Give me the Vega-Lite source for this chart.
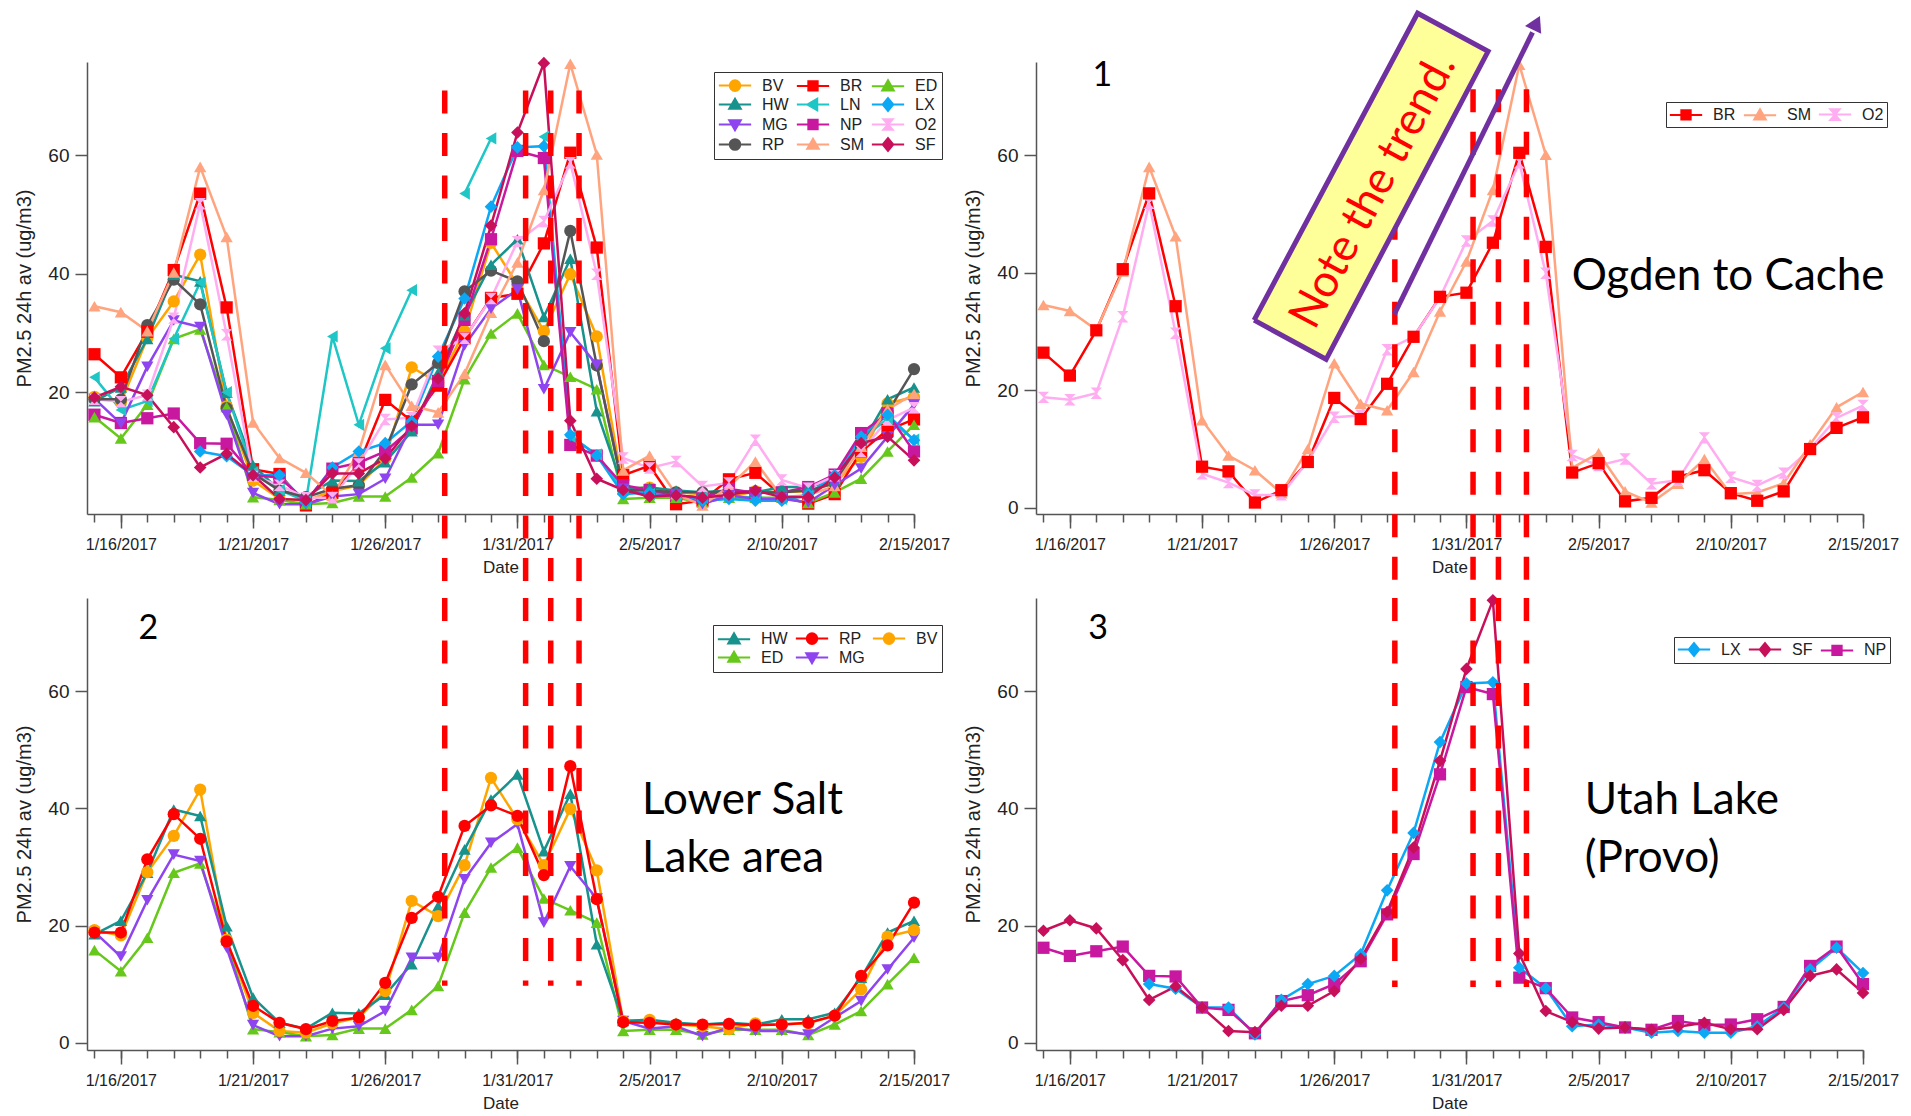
{
  "$schema": "https://vega.github.io/schema/vega-lite/v6.json",
  "background": "white",
  "padding": {"left": 14, "top": 3, "right": 4, "bottom": 4},
  "bounds": "flush",
  "columns": 2,
  "spacing": {"row": 84, "column": 122},
  "config": {
    "view": {"stroke": null},
    "axis": {
      "grid": false, "domainColor": "#555555", "domainWidth": 1.5, "tickColor": "#555555", "tickWidth": 1.5,
      "labelColor": "#222222", "titleColor": "#222222", "labelFont": "Liberation Sans, Arial, sans-serif",
      "titleFont": "Liberation Sans, Arial, sans-serif", "titleFontWeight": "normal"
    },
    "axisX": {"labelFontSize": 16, "titleFontSize": 17, "titlePadding": 7, "labelPadding": 8},
    "axisY": {"labelFontSize": 19, "titleFontSize": 20, "titlePadding": 13, "labelPadding": 6, "tickSize": 12},
    "legend": {
      "title": null, "orient": "none", "direction": "horizontal", "symbolSize": 289, "symbolOffset": 7.5, "labelOffset": 17.5, "columnPadding": 3,
      "rowPadding": -5, "padding": 4, "labelFont": "Liberation Sans, Arial, sans-serif", "symbolOpacity": 1,
      "labelFontSize": 16, "labelColor": "#222222", "strokeColor": "#333333", "fillColor": "#ffffff", "symbolStrokeWidth": 2, "columns": 3
    }
  },
  "resolve": {"scale": {"color": "independent", "shape": "independent"}},
  "datasets": {
    "pm": [
      {"station":"BV","date":"2017-01-15","pm":19.2},{"station":"BV","date":"2017-01-16","pm":18.3},{"station":"BV","date":"2017-01-17","pm":29.1},{"station":"BV","date":"2017-01-18","pm":35.3},{"station":"BV","date":"2017-01-19","pm":43.2},{"station":"BV","date":"2017-01-20","pm":17.6},{"station":"BV","date":"2017-01-21","pm":5.1},{"station":"BV","date":"2017-01-22","pm":2.0},{"station":"BV","date":"2017-01-23","pm":1.7},{"station":"BV","date":"2017-01-24","pm":3.3},{"station":"BV","date":"2017-01-25","pm":4.3},{"station":"BV","date":"2017-01-26","pm":8.8},{"station":"BV","date":"2017-01-27","pm":24.2},{"station":"BV","date":"2017-01-28","pm":21.6},{"station":"BV","date":"2017-01-29","pm":30.3},{"station":"BV","date":"2017-01-30","pm":45.2},{"station":"BV","date":"2017-01-31","pm":38.1},{"station":"BV","date":"2017-02-01","pm":30.3},{"station":"BV","date":"2017-02-02","pm":39.9},{"station":"BV","date":"2017-02-03","pm":29.4},{"station":"BV","date":"2017-02-04","pm":3.7},{"station":"BV","date":"2017-02-05","pm":3.9},{"station":"BV","date":"2017-02-06","pm":3.1},{"station":"BV","date":"2017-02-07","pm":2.8},{"station":"BV","date":"2017-02-08","pm":2.3},{"station":"BV","date":"2017-02-09","pm":3.3},{"station":"BV","date":"2017-02-10","pm":3.1},{"station":"BV","date":"2017-02-11","pm":3.3},{"station":"BV","date":"2017-02-12","pm":4.6},{"station":"BV","date":"2017-02-13","pm":9.1},{"station":"BV","date":"2017-02-14","pm":18.1},{"station":"BV","date":"2017-02-15","pm":19.2},
      {"station":"BR","date":"2017-01-15","pm":26.4},{"station":"BR","date":"2017-01-16","pm":22.5},{"station":"BR","date":"2017-01-17","pm":30.2},{"station":"BR","date":"2017-01-18","pm":40.6},{"station":"BR","date":"2017-01-19","pm":53.5},{"station":"BR","date":"2017-01-20","pm":34.3},{"station":"BR","date":"2017-01-21","pm":7.0},{"station":"BR","date":"2017-01-22","pm":6.2},{"station":"BR","date":"2017-01-23","pm":0.9},{"station":"BR","date":"2017-01-24","pm":3.0},{"station":"BR","date":"2017-01-25","pm":7.8},{"station":"BR","date":"2017-01-26","pm":18.7},{"station":"BR","date":"2017-01-27","pm":15.1},{"station":"BR","date":"2017-01-28","pm":21.1},{"station":"BR","date":"2017-01-29","pm":29.1},{"station":"BR","date":"2017-01-30","pm":35.9},{"station":"BR","date":"2017-01-31","pm":36.6},{"station":"BR","date":"2017-02-01","pm":45.1},{"station":"BR","date":"2017-02-02","pm":60.4},{"station":"BR","date":"2017-02-03","pm":44.4},{"station":"BR","date":"2017-02-04","pm":6.0},{"station":"BR","date":"2017-02-05","pm":7.6},{"station":"BR","date":"2017-02-06","pm":1.1},{"station":"BR","date":"2017-02-07","pm":1.7},{"station":"BR","date":"2017-02-08","pm":5.3},{"station":"BR","date":"2017-02-09","pm":6.4},{"station":"BR","date":"2017-02-10","pm":2.5},{"station":"BR","date":"2017-02-11","pm":1.2},{"station":"BR","date":"2017-02-12","pm":2.8},{"station":"BR","date":"2017-02-13","pm":10.0},{"station":"BR","date":"2017-02-14","pm":13.6},{"station":"BR","date":"2017-02-15","pm":15.4},
      {"station":"ED","date":"2017-01-15","pm":15.8},{"station":"ED","date":"2017-01-16","pm":12.2},{"station":"ED","date":"2017-01-17","pm":17.9},{"station":"ED","date":"2017-01-18","pm":29.0},{"station":"ED","date":"2017-01-19","pm":30.6},{"station":"ED","date":"2017-01-20","pm":17.5},{"station":"ED","date":"2017-01-21","pm":2.3},{"station":"ED","date":"2017-01-22","pm":1.8},{"station":"ED","date":"2017-01-23","pm":1.1},{"station":"ED","date":"2017-01-24","pm":1.3},{"station":"ED","date":"2017-01-25","pm":2.4},{"station":"ED","date":"2017-01-26","pm":2.4},{"station":"ED","date":"2017-01-27","pm":5.6},{"station":"ED","date":"2017-01-28","pm":9.7},{"station":"ED","date":"2017-01-29","pm":22.2},{"station":"ED","date":"2017-01-30","pm":29.9},{"station":"ED","date":"2017-01-31","pm":33.3},{"station":"ED","date":"2017-02-01","pm":24.6},{"station":"ED","date":"2017-02-02","pm":22.6},{"station":"ED","date":"2017-02-03","pm":20.5},{"station":"ED","date":"2017-02-04","pm":2.0},{"station":"ED","date":"2017-02-05","pm":2.2},{"station":"ED","date":"2017-02-06","pm":2.2},{"station":"ED","date":"2017-02-07","pm":1.4},{"station":"ED","date":"2017-02-08","pm":2.2},{"station":"ED","date":"2017-02-09","pm":2.2},{"station":"ED","date":"2017-02-10","pm":2.2},{"station":"ED","date":"2017-02-11","pm":1.3},{"station":"ED","date":"2017-02-12","pm":3.1},{"station":"ED","date":"2017-02-13","pm":5.4},{"station":"ED","date":"2017-02-14","pm":10.0},{"station":"ED","date":"2017-02-15","pm":14.5},
      {"station":"HW","date":"2017-01-15","pm":18.5},{"station":"HW","date":"2017-01-16","pm":20.8},{"station":"HW","date":"2017-01-17","pm":29.0},{"station":"HW","date":"2017-01-18","pm":39.8},{"station":"HW","date":"2017-01-19","pm":38.7},{"station":"HW","date":"2017-01-20","pm":19.9},{"station":"HW","date":"2017-01-21","pm":7.7},{"station":"HW","date":"2017-01-22","pm":3.4},{"station":"HW","date":"2017-01-23","pm":2.4},{"station":"HW","date":"2017-01-24","pm":5.1},{"station":"HW","date":"2017-01-25","pm":5.0},{"station":"HW","date":"2017-01-26","pm":8.2},{"station":"HW","date":"2017-01-27","pm":13.4},{"station":"HW","date":"2017-01-28","pm":23.3},{"station":"HW","date":"2017-01-29","pm":33.0},{"station":"HW","date":"2017-01-30","pm":41.5},{"station":"HW","date":"2017-01-31","pm":45.8},{"station":"HW","date":"2017-02-01","pm":32.7},{"station":"HW","date":"2017-02-02","pm":42.5},{"station":"HW","date":"2017-02-03","pm":16.8},{"station":"HW","date":"2017-02-04","pm":3.7},{"station":"HW","date":"2017-02-05","pm":3.9},{"station":"HW","date":"2017-02-06","pm":3.4},{"station":"HW","date":"2017-02-07","pm":3.1},{"station":"HW","date":"2017-02-08","pm":3.4},{"station":"HW","date":"2017-02-09","pm":3.1},{"station":"HW","date":"2017-02-10","pm":4.0},{"station":"HW","date":"2017-02-11","pm":4.0},{"station":"HW","date":"2017-02-12","pm":5.1},{"station":"HW","date":"2017-02-13","pm":11.1},{"station":"HW","date":"2017-02-14","pm":18.8},{"station":"HW","date":"2017-02-15","pm":20.8},
      {"station":"LN","date":"2017-01-15","pm":22.5},{"station":"LN","date":"2017-01-16","pm":17.0},{"station":"LN","date":"2017-01-17","pm":18.5},{"station":"LN","date":"2017-01-18","pm":29.0},{"station":"LN","date":"2017-01-19","pm":38.5},{"station":"LN","date":"2017-01-20","pm":20.0},{"station":"LN","date":"2017-01-21","pm":6.5},{"station":"LN","date":"2017-01-22","pm":3.5},{"station":"LN","date":"2017-01-23","pm":1.6},{"station":"LN","date":"2017-01-24","pm":29.4},{"station":"LN","date":"2017-01-25","pm":14.5},{"station":"LN","date":"2017-01-26","pm":27.4},{"station":"LN","date":"2017-01-27","pm":37.2},{"station":"LN","date":"2017-01-28","pm":null},{"station":"LN","date":"2017-01-29","pm":53.5},{"station":"LN","date":"2017-01-30","pm":62.8},{"station":"LN","date":"2017-01-31","pm":null},{"station":"LN","date":"2017-02-01","pm":63.1},{"station":"LN","date":"2017-02-02","pm":12.5},{"station":"LN","date":"2017-02-03","pm":9.5},{"station":"LN","date":"2017-02-04","pm":3.5},{"station":"LN","date":"2017-02-05","pm":2.8},{"station":"LN","date":"2017-02-06","pm":2.5},{"station":"LN","date":"2017-02-07","pm":2.2},{"station":"LN","date":"2017-02-08","pm":2.5},{"station":"LN","date":"2017-02-09","pm":2.2},{"station":"LN","date":"2017-02-10","pm":2.0},{"station":"LN","date":"2017-02-11","pm":2.5},{"station":"LN","date":"2017-02-12","pm":5.5},{"station":"LN","date":"2017-02-13","pm":12.0},{"station":"LN","date":"2017-02-14","pm":15.5},{"station":"LN","date":"2017-02-15","pm":12.0},
      {"station":"LX","date":"2017-01-19","pm":10.0},{"station":"LX","date":"2017-01-20","pm":9.2},{"station":"LX","date":"2017-01-21","pm":6.0},{"station":"LX","date":"2017-01-22","pm":6.0},{"station":"LX","date":"2017-01-23","pm":1.4},{"station":"LX","date":"2017-01-24","pm":7.3},{"station":"LX","date":"2017-01-25","pm":10.0},{"station":"LX","date":"2017-01-26","pm":11.4},{"station":"LX","date":"2017-01-27","pm":15.1},{"station":"LX","date":"2017-01-28","pm":26.0},{"station":"LX","date":"2017-01-29","pm":35.8},{"station":"LX","date":"2017-01-30","pm":51.3},{"station":"LX","date":"2017-01-31","pm":61.3},{"station":"LX","date":"2017-02-01","pm":61.5},{"station":"LX","date":"2017-02-02","pm":12.8},{"station":"LX","date":"2017-02-03","pm":9.3},{"station":"LX","date":"2017-02-04","pm":2.8},{"station":"LX","date":"2017-02-05","pm":3.1},{"station":"LX","date":"2017-02-06","pm":2.6},{"station":"LX","date":"2017-02-07","pm":1.7},{"station":"LX","date":"2017-02-08","pm":2.0},{"station":"LX","date":"2017-02-09","pm":1.7},{"station":"LX","date":"2017-02-10","pm":1.7},{"station":"LX","date":"2017-02-11","pm":2.8},{"station":"LX","date":"2017-02-12","pm":6.0},{"station":"LX","date":"2017-02-13","pm":12.5},{"station":"LX","date":"2017-02-14","pm":16.2},{"station":"LX","date":"2017-02-15","pm":11.9},
      {"station":"MG","date":"2017-01-15","pm":18.9},{"station":"MG","date":"2017-01-16","pm":14.7},{"station":"MG","date":"2017-01-17","pm":24.3},{"station":"MG","date":"2017-01-18","pm":32.1},{"station":"MG","date":"2017-01-19","pm":31.0},{"station":"MG","date":"2017-01-20","pm":16.2},{"station":"MG","date":"2017-01-21","pm":3.0},{"station":"MG","date":"2017-01-22","pm":1.1},{"station":"MG","date":"2017-01-23","pm":1.1},{"station":"MG","date":"2017-01-24","pm":2.4},{"station":"MG","date":"2017-01-25","pm":2.8},{"station":"MG","date":"2017-01-26","pm":5.4},{"station":"MG","date":"2017-01-27","pm":14.5},{"station":"MG","date":"2017-01-28","pm":14.5},{"station":"MG","date":"2017-01-29","pm":27.9},{"station":"MG","date":"2017-01-30","pm":34.1},{"station":"MG","date":"2017-01-31","pm":37.3},{"station":"MG","date":"2017-02-01","pm":20.5},{"station":"MG","date":"2017-02-02","pm":30.1},{"station":"MG","date":"2017-02-03","pm":24.6},{"station":"MG","date":"2017-02-04","pm":3.7},{"station":"MG","date":"2017-02-05","pm":2.4},{"station":"MG","date":"2017-02-06","pm":2.8},{"station":"MG","date":"2017-02-07","pm":1.1},{"station":"MG","date":"2017-02-08","pm":2.6},{"station":"MG","date":"2017-02-09","pm":2.0},{"station":"MG","date":"2017-02-10","pm":2.0},{"station":"MG","date":"2017-02-11","pm":1.4},{"station":"MG","date":"2017-02-12","pm":4.3},{"station":"MG","date":"2017-02-13","pm":7.1},{"station":"MG","date":"2017-02-14","pm":12.5},{"station":"MG","date":"2017-02-15","pm":17.9},
      {"station":"NP","date":"2017-01-15","pm":16.2},{"station":"NP","date":"2017-01-16","pm":14.8},{"station":"NP","date":"2017-01-17","pm":15.6},{"station":"NP","date":"2017-01-18","pm":16.4},{"station":"NP","date":"2017-01-19","pm":11.4},{"station":"NP","date":"2017-01-20","pm":11.3},{"station":"NP","date":"2017-01-21","pm":6.0},{"station":"NP","date":"2017-01-22","pm":5.6},{"station":"NP","date":"2017-01-23","pm":1.6},{"station":"NP","date":"2017-01-24","pm":7.1},{"station":"NP","date":"2017-01-25","pm":8.1},{"station":"NP","date":"2017-01-26","pm":10.0},{"station":"NP","date":"2017-01-27","pm":13.9},{"station":"NP","date":"2017-01-28","pm":21.9},{"station":"NP","date":"2017-01-29","pm":32.2},{"station":"NP","date":"2017-01-30","pm":45.8},{"station":"NP","date":"2017-01-31","pm":60.7},{"station":"NP","date":"2017-02-01","pm":59.5},{"station":"NP","date":"2017-02-02","pm":11.1},{"station":"NP","date":"2017-02-03","pm":9.3},{"station":"NP","date":"2017-02-04","pm":4.3},{"station":"NP","date":"2017-02-05","pm":3.5},{"station":"NP","date":"2017-02-06","pm":2.6},{"station":"NP","date":"2017-02-07","pm":2.2},{"station":"NP","date":"2017-02-08","pm":3.7},{"station":"NP","date":"2017-02-09","pm":3.0},{"station":"NP","date":"2017-02-10","pm":3.1},{"station":"NP","date":"2017-02-11","pm":4.0},{"station":"NP","date":"2017-02-12","pm":6.1},{"station":"NP","date":"2017-02-13","pm":13.1},{"station":"NP","date":"2017-02-14","pm":16.4},{"station":"NP","date":"2017-02-15","pm":10.0},
      {"station":"O2","date":"2017-01-15","pm":18.8},{"station":"O2","date":"2017-01-16","pm":18.4},{"station":"O2","date":"2017-01-17","pm":19.5},{"station":"O2","date":"2017-01-18","pm":32.5},{"station":"O2","date":"2017-01-19","pm":51.8},{"station":"O2","date":"2017-01-20","pm":29.7},{"station":"O2","date":"2017-01-21","pm":5.8},{"station":"O2","date":"2017-01-22","pm":4.3},{"station":"O2","date":"2017-01-23","pm":2.2},{"station":"O2","date":"2017-01-24","pm":2.2},{"station":"O2","date":"2017-01-25","pm":7.9},{"station":"O2","date":"2017-01-26","pm":15.4},{"station":"O2","date":"2017-01-27","pm":15.7},{"station":"O2","date":"2017-01-28","pm":26.9},{"station":"O2","date":"2017-01-29","pm":29.1},{"station":"O2","date":"2017-01-30","pm":35.8},{"station":"O2","date":"2017-01-31","pm":45.4},{"station":"O2","date":"2017-02-01","pm":48.8},{"station":"O2","date":"2017-02-02","pm":58.7},{"station":"O2","date":"2017-02-03","pm":39.9},{"station":"O2","date":"2017-02-04","pm":8.9},{"station":"O2","date":"2017-02-05","pm":7.2},{"station":"O2","date":"2017-02-06","pm":8.3},{"station":"O2","date":"2017-02-07","pm":4.1},{"station":"O2","date":"2017-02-08","pm":4.7},{"station":"O2","date":"2017-02-09","pm":11.9},{"station":"O2","date":"2017-02-10","pm":5.2},{"station":"O2","date":"2017-02-11","pm":3.8},{"station":"O2","date":"2017-02-12","pm":5.9},{"station":"O2","date":"2017-02-13","pm":10.0},{"station":"O2","date":"2017-02-14","pm":15.3},{"station":"O2","date":"2017-02-15","pm":17.4},
      {"station":"RP","date":"2017-01-15","pm":18.8},{"station":"RP","date":"2017-01-16","pm":18.8},{"station":"RP","date":"2017-01-17","pm":31.3},{"station":"RP","date":"2017-01-18","pm":39.0},{"station":"RP","date":"2017-01-19","pm":34.8},{"station":"RP","date":"2017-01-20","pm":17.3},{"station":"RP","date":"2017-01-21","pm":6.3},{"station":"RP","date":"2017-01-22","pm":3.4},{"station":"RP","date":"2017-01-23","pm":2.3},{"station":"RP","date":"2017-01-24","pm":3.7},{"station":"RP","date":"2017-01-25","pm":4.3},{"station":"RP","date":"2017-01-26","pm":10.2},{"station":"RP","date":"2017-01-27","pm":21.3},{"station":"RP","date":"2017-01-28","pm":24.9},{"station":"RP","date":"2017-01-29","pm":37.0},{"station":"RP","date":"2017-01-30","pm":40.5},{"station":"RP","date":"2017-01-31","pm":38.7},{"station":"RP","date":"2017-02-01","pm":28.6},{"station":"RP","date":"2017-02-02","pm":47.2},{"station":"RP","date":"2017-02-03","pm":24.5},{"station":"RP","date":"2017-02-04","pm":3.5},{"station":"RP","date":"2017-02-05","pm":3.4},{"station":"RP","date":"2017-02-06","pm":3.1},{"station":"RP","date":"2017-02-07","pm":3.1},{"station":"RP","date":"2017-02-08","pm":3.2},{"station":"RP","date":"2017-02-09","pm":3.0},{"station":"RP","date":"2017-02-10","pm":3.1},{"station":"RP","date":"2017-02-11","pm":3.4},{"station":"RP","date":"2017-02-12","pm":4.6},{"station":"RP","date":"2017-02-13","pm":11.4},{"station":"RP","date":"2017-02-14","pm":16.6},{"station":"RP","date":"2017-02-15","pm":23.9},
      {"station":"SM","date":"2017-01-15","pm":34.5},{"station":"SM","date":"2017-01-16","pm":33.5},{"station":"SM","date":"2017-01-17","pm":30.3},{"station":"SM","date":"2017-01-18","pm":40.2},{"station":"SM","date":"2017-01-19","pm":58.0},{"station":"SM","date":"2017-01-20","pm":46.2},{"station":"SM","date":"2017-01-21","pm":14.9},{"station":"SM","date":"2017-01-22","pm":8.9},{"station":"SM","date":"2017-01-23","pm":6.4},{"station":"SM","date":"2017-01-24","pm":2.5},{"station":"SM","date":"2017-01-25","pm":10.0},{"station":"SM","date":"2017-01-26","pm":24.6},{"station":"SM","date":"2017-01-27","pm":17.7},{"station":"SM","date":"2017-01-28","pm":16.6},{"station":"SM","date":"2017-01-29","pm":23.1},{"station":"SM","date":"2017-01-30","pm":33.4},{"station":"SM","date":"2017-01-31","pm":41.9},{"station":"SM","date":"2017-02-01","pm":54.1},{"station":"SM","date":"2017-02-02","pm":75.4},{"station":"SM","date":"2017-02-03","pm":60.1},{"station":"SM","date":"2017-02-04","pm":6.8},{"station":"SM","date":"2017-02-05","pm":9.3},{"station":"SM","date":"2017-02-06","pm":2.8},{"station":"SM","date":"2017-02-07","pm":0.9},{"station":"SM","date":"2017-02-08","pm":4.1},{"station":"SM","date":"2017-02-09","pm":8.3},{"station":"SM","date":"2017-02-10","pm":2.3},{"station":"SM","date":"2017-02-11","pm":2.6},{"station":"SM","date":"2017-02-12","pm":4.2},{"station":"SM","date":"2017-02-13","pm":10.8},{"station":"SM","date":"2017-02-14","pm":17.1},{"station":"SM","date":"2017-02-15","pm":19.7},
      {"station":"SF","date":"2017-01-15","pm":19.1},{"station":"SF","date":"2017-01-16","pm":20.9},{"station":"SF","date":"2017-01-17","pm":19.5},{"station":"SF","date":"2017-01-18","pm":14.1},{"station":"SF","date":"2017-01-19","pm":7.3},{"station":"SF","date":"2017-01-20","pm":9.6},{"station":"SF","date":"2017-01-21","pm":6.0},{"station":"SF","date":"2017-01-22","pm":2.0},{"station":"SF","date":"2017-01-23","pm":1.8},{"station":"SF","date":"2017-01-24","pm":6.3},{"station":"SF","date":"2017-01-25","pm":6.3},{"station":"SF","date":"2017-01-26","pm":8.8},{"station":"SF","date":"2017-01-27","pm":14.3},{"station":"SF","date":"2017-01-28","pm":22.3},{"station":"SF","date":"2017-01-29","pm":33.3},{"station":"SF","date":"2017-01-30","pm":48.1},{"station":"SF","date":"2017-01-31","pm":63.8},{"station":"SF","date":"2017-02-01","pm":75.5},{"station":"SF","date":"2017-02-02","pm":15.2},{"station":"SF","date":"2017-02-03","pm":5.4},{"station":"SF","date":"2017-02-04","pm":3.5},{"station":"SF","date":"2017-02-05","pm":2.4},{"station":"SF","date":"2017-02-06","pm":2.6},{"station":"SF","date":"2017-02-07","pm":2.2},{"station":"SF","date":"2017-02-08","pm":2.7},{"station":"SF","date":"2017-02-09","pm":3.4},{"station":"SF","date":"2017-02-10","pm":2.3},{"station":"SF","date":"2017-02-11","pm":2.3},{"station":"SF","date":"2017-02-12","pm":5.6},{"station":"SF","date":"2017-02-13","pm":11.4},{"station":"SF","date":"2017-02-14","pm":12.5},{"station":"SF","date":"2017-02-15","pm":8.5}
    ]
  },
  "concat": [
    {
      "width": 827, "height": 452,
      "encoding": {
        "x": {"field": "date", "type": "temporal", "axis": null,
              "scale": {"type": "utc", "nice": false, "domain": [{"year":2017,"month":1,"date":14,"hours":17,"minutes":15,"utc":true},{"year":2017,"month":2,"date":15,"utc":true}]}},
        "y": {"field": "pm", "type": "quantitative", "scale": {"domain": [-0.55, 75.7], "nice": false, "zero": false},
              "axis": {"title": "PM2.5 24h av (ug/m3)", "values": [20, 40, 60]}}
      },
      "layer": [
        {
          "data": {"name": "pm"},
          "mark": {"type": "line", "strokeWidth": 2.5, "invalid": "break-paths-show-domains"},
          "encoding": {
            "x": {"field": "date", "type": "temporal",
                  "scale": {"type": "utc", "nice": false, "domain": [{"year":2017,"month":1,"date":14,"hours":17,"minutes":15,"utc":true},{"year":2017,"month":2,"date":15,"utc":true}]},
                  "axis": {"orient": "bottom", "title": "Date", "format": "%-m/%-d/%Y", "tickSize": 14, "labelFlush": false, "labelOverlap": false,
                           "values": [{"year":2017,"month":1,"date":16,"utc":true},{"year":2017,"month":1,"date":21,"utc":true},{"year":2017,"month":1,"date":26,"utc":true},{"year":2017,"month":1,"date":31,"utc":true},{"year":2017,"month":2,"date":5,"utc":true},{"year":2017,"month":2,"date":10,"utc":true},{"year":2017,"month":2,"date":15,"utc":true}]}},
            "color": {"field": "station", "type": "nominal",
                      "scale": {"domain": ["BV","BR","ED","HW","LN","LX","MG","NP","O2","RP","SM","SF"],
                                "range": ["#FFA500","#FF0000","#66C81A","#17928D","#1EC6C6","#0AA8F5","#8E44EE","#C818A0","#FFADF0","#555555","#FFA47E","#C8105A"]},
                      "legend": {"legendX": 627, "legendY": 10}}
          }
        },
        {"data": {"name": "pm"}, "transform": [{"filter": {"field": "station", "oneOf": ["BV","RP"]}}], "mark": {"type": "point", "shape": "circle", "filled": true, "opacity": 1, "size": 150}, "encoding": {"color": {"field": "station", "type": "nominal"}}},
        {"data": {"name": "pm"}, "transform": [{"filter": {"field": "station", "oneOf": ["BR","NP"]}}], "mark": {"type": "point", "shape": "square", "filled": true, "opacity": 1, "size": 150}, "encoding": {"color": {"field": "station", "type": "nominal"}}},
        {"data": {"name": "pm"}, "transform": [{"filter": {"field": "station", "oneOf": ["ED","HW","SM"]}}], "mark": {"type": "point", "shape": "triangle-up", "filled": true, "opacity": 1, "size": 150}, "encoding": {"color": {"field": "station", "type": "nominal"}}},
        {"data": {"name": "pm"}, "transform": [{"filter": {"field": "station", "oneOf": ["LN"]}}, {"filter": {"field": "pm", "valid": true}}], "mark": {"type": "point", "shape": "triangle-left", "filled": true, "opacity": 1, "size": 150}, "encoding": {"color": {"field": "station", "type": "nominal"}}},
        {"data": {"name": "pm"}, "transform": [{"filter": {"field": "station", "oneOf": ["MG"]}}], "mark": {"type": "point", "shape": "triangle-down", "filled": true, "opacity": 1, "size": 150}, "encoding": {"color": {"field": "station", "type": "nominal"}}},
        {"data": {"name": "pm"}, "transform": [{"filter": {"field": "station", "oneOf": ["O2"]}}], "mark": {"type": "point", "shape": "M-1,-1H1L-1,1H1Z", "filled": true, "opacity": 1, "size": 130}, "encoding": {"color": {"field": "station", "type": "nominal"}}},
        {"data": {"name": "pm"}, "transform": [{"filter": {"field": "station", "oneOf": ["LX","SF"]}}], "mark": {"type": "point", "shape": "diamond", "filled": true, "opacity": 1, "size": 160}, "encoding": {"color": {"field": "station", "type": "nominal"}}},
        {
          "data": {"name": "pm"},
          "transform": [{"filter": "false"}],
          "mark": {"type": "point", "filled": true, "opacity": 1},
          "encoding": {
            "color": {"field": "station", "type": "nominal"},
            "shape": {"field": "station", "type": "nominal",
                      "scale": {"domain": ["BV","BR","ED","HW","LN","LX","MG","NP","O2","RP","SM","SF"],
                                "range": [
                                  "M-1.9,0H1.9M0.62,0A0.62,0.62 0 1,1 -0.62,0A0.62,0.62 0 1,1 0.62,0Z",
                                  "M-1.9,0H1.9M-0.55,-0.55H0.55V0.55H-0.55Z",
                                  "M-1.9,0H1.9M0,-0.68L0.68,0.5H-0.68Z",
                                  "M-1.9,0H1.9M0,-0.68L0.68,0.5H-0.68Z",
                                  "M-1.9,0H1.9M-0.68,0L0.5,-0.68V0.68Z",
                                  "M-1.9,0H1.9M0,-0.75L0.62,0L0,0.75L-0.62,0Z",
                                  "M-1.9,0H1.9M0,0.68L0.68,-0.5H-0.68Z",
                                  "M-1.9,0H1.9M-0.55,-0.55H0.55V0.55H-0.55Z",
                                  "M-1.9,0H1.9M-0.55,-0.62H0.55L-0.55,0.62H0.55Z",
                                  "M-1.9,0H1.9M0.62,0A0.62,0.62 0 1,1 -0.62,0A0.62,0.62 0 1,1 0.62,0Z",
                                  "M-1.9,0H1.9M0,-0.68L0.68,0.5H-0.68Z",
                                  "M-1.9,0H1.9M0,-0.75L0.62,0L0,0.75L-0.62,0Z"]}}
          }
        },
        {
          "data": {"values": [
            {"date": "2017-01-28T06:00:00Z", "pm": 70.9, "pm2": -15},
            {"date": "2017-01-31T07:26:00Z", "pm": 70.9, "pm2": -15},
            {"date": "2017-02-01T06:14:00Z", "pm": 70.9, "pm2": -15},
            {"date": "2017-02-02T07:55:00Z", "pm": 70.9, "pm2": -15}
          ]},
          "mark": {"type": "rule", "color": "#FF0000", "strokeWidth": 5.5, "strokeDash": [23, 19.5]},
          "encoding": {
            "x": {"field": "date", "type": "temporal",
                  "scale": {"type": "utc", "nice": false, "domain": [{"year":2017,"month":1,"date":14,"hours":17,"minutes":15,"utc":true},{"year":2017,"month":2,"date":15,"utc":true}]},
                  "axis": {"orient": "bottom", "title": null, "labels": false, "domain": false, "tickSize": 8, "tickCount": {"interval": "day", "step": 1}}},
            "y2": {"field": "pm2"}
          }
        }
      ],
      "resolve": {"axis": {"x": "independent"}}
    },
    {
      "width": 827, "height": 452,
      "encoding": {
        "x": {"field": "date", "type": "temporal", "axis": null,
              "scale": {"type": "utc", "nice": false, "domain": [{"year":2017,"month":1,"date":14,"hours":17,"minutes":15,"utc":true},{"year":2017,"month":2,"date":15,"utc":true}]}},
        "y": {"field": "pm", "type": "quantitative", "scale": {"domain": [-1.05, 75.85], "nice": false, "zero": false},
              "axis": {"title": "PM2.5 24h av (ug/m3)", "values": [0, 20, 40, 60]}}
      },
      "layer": [
        {
          "data": {"name": "pm"},
          "transform": [{"filter": {"field": "station", "oneOf": ["BR","SM","O2"]}}],
          "mark": {"type": "line", "strokeWidth": 2.5},
          "encoding": {
            "x": {"field": "date", "type": "temporal",
                  "scale": {"type": "utc", "nice": false, "domain": [{"year":2017,"month":1,"date":14,"hours":17,"minutes":15,"utc":true},{"year":2017,"month":2,"date":15,"utc":true}]},
                  "axis": {"orient": "bottom", "title": "Date", "format": "%-m/%-d/%Y", "tickSize": 14, "labelFlush": false, "labelOverlap": false,
                           "values": [{"year":2017,"month":1,"date":16,"utc":true},{"year":2017,"month":1,"date":21,"utc":true},{"year":2017,"month":1,"date":26,"utc":true},{"year":2017,"month":1,"date":31,"utc":true},{"year":2017,"month":2,"date":5,"utc":true},{"year":2017,"month":2,"date":10,"utc":true},{"year":2017,"month":2,"date":15,"utc":true}]}},
            "color": {"field": "station", "type": "nominal",
                      "scale": {"domain": ["BR","SM","O2"], "range": ["#FF0000","#FFA47E","#FFADF0"]},
                      "legend": {"legendX": 630, "legendY": 40, "padding": 3}}
          }
        },
        {"data": {"name": "pm"}, "transform": [{"filter": {"field": "station", "oneOf": ["SM"]}}], "mark": {"type": "point", "shape": "triangle-up", "filled": true, "opacity": 1, "size": 150}, "encoding": {"color": {"field": "station", "type": "nominal"}}},
        {"data": {"name": "pm"}, "transform": [{"filter": {"field": "station", "oneOf": ["O2"]}}], "mark": {"type": "point", "shape": "M-1,-1H1L-1,1H1Z", "filled": true, "opacity": 1, "size": 130}, "encoding": {"color": {"field": "station", "type": "nominal"}}},
        {"data": {"name": "pm"}, "transform": [{"filter": {"field": "station", "oneOf": ["BR"]}}], "mark": {"type": "point", "shape": "square", "filled": true, "opacity": 1, "size": 150}, "encoding": {"color": {"field": "station", "type": "nominal"}}},
        {
          "data": {"name": "pm"},
          "transform": [{"filter": "false"}],
          "mark": {"type": "point", "filled": true, "opacity": 1},
          "encoding": {
            "color": {"field": "station", "type": "nominal"},
            "shape": {"field": "station", "type": "nominal",
                      "scale": {"domain": ["BR","SM","O2"],
                                "range": ["M-1.9,0H1.9M-0.55,-0.55H0.55V0.55H-0.55Z", "M-1.9,0H1.9M0,-0.68L0.68,0.5H-0.68Z", "M-1.9,0H1.9M-0.55,-0.62H0.55L-0.55,0.62H0.55Z"]}}
          }
        },
        {
          "data": {"values": [
            {"date": "2017-01-28T07:00:00Z", "pm": 71.2, "pm2": -15},
            {"date": "2017-01-31T06:00:00Z", "pm": 71.2, "pm2": -15},
            {"date": "2017-02-01T05:02:00Z", "pm": 71.2, "pm2": -15},
            {"date": "2017-02-02T06:29:00Z", "pm": 71.2, "pm2": -15}
          ]},
          "mark": {"type": "rule", "color": "#FF0000", "strokeWidth": 5.5, "strokeDash": [23, 19.5]},
          "encoding": {
            "x": {"field": "date", "type": "temporal",
                  "scale": {"type": "utc", "nice": false, "domain": [{"year":2017,"month":1,"date":14,"hours":17,"minutes":15,"utc":true},{"year":2017,"month":2,"date":15,"utc":true}]},
                  "axis": {"orient": "bottom", "title": null, "labels": false, "domain": false, "tickSize": 8, "tickCount": {"interval": "day", "step": 1}}},
            "y2": {"field": "pm2"}
          }
        },
        {
          "data": {"values": [
            {"date": "2017-01-22T23:15:00Z", "pm": 31.93, "i": 1},
            {"date": "2017-01-29T03:40:00Z", "pm": 84.15, "i": 2},
            {"date": "2017-01-31T19:39:00Z", "pm": 77.66, "i": 3},
            {"date": "2017-01-25T16:36:00Z", "pm": 25.27, "i": 4},
            {"date": "2017-01-22T23:15:00Z", "pm": 31.93, "i": 5}
          ]},
          "mark": {"type": "line", "fill": "#FFFF99", "stroke": "#7030A0", "strokeWidth": 5, "strokeJoin": "miter"},
          "encoding": {"order": {"field": "i", "type": "quantitative"}}
        },
        {
          "data": {"values": [{"date": "2017-01-27T11:17:00Z", "pm": 53.9, "label": "Note the trend."}]},
          "mark": {"type": "text", "font": "Lato", "fontSize": 45, "color": "#FF0000", "angle": -62, "align": "center", "baseline": "middle"},
          "encoding": {"text": {"field": "label"}}
        },
        {
          "data": {"values": [
            {"date": "2017-01-28T06:29:00Z", "pm": 32.9, "i": 1},
            {"date": "2017-02-02T12:00:00Z", "pm": 80.9, "i": 2}
          ]},
          "mark": {"type": "line", "color": "#7030A0", "strokeWidth": 5, "strokeCap": "butt"},
          "encoding": {"order": {"field": "i", "type": "quantitative"}}
        },
        {
          "data": {"values": [{"date": "2017-02-02T15:36:00Z", "pm": 82.5}]},
          "mark": {"type": "point", "shape": "triangle-up", "filled": true, "opacity": 1, "color": "#7030A0", "size": 324, "angle": 26}
        },
        {
          "data": {"values": [{"date": "2017-02-03T23:31:00Z", "pm": 37.05, "label": "Ogden to Cache"}]},
          "mark": {"type": "text", "font": "Lato", "fontSize": 44, "color": "#000000", "align": "left", "baseline": "alphabetic"},
          "encoding": {"text": {"field": "label"}}
        },
        {
          "data": {"values": [{"date": "2017-01-17T05:31:00Z", "pm": 73.4, "label": "1"}]},
          "mark": {"type": "text", "font": "Lato", "fontSize": 34, "color": "#000000", "align": "center", "baseline": "middle"},
          "encoding": {"text": {"field": "label"}}
        }
      ],
      "resolve": {"axis": {"x": "independent"}}
    },
    {
      "width": 827, "height": 452,
      "encoding": {
        "x": {"field": "date", "type": "temporal", "axis": null,
              "scale": {"type": "utc", "nice": false, "domain": [{"year":2017,"month":1,"date":14,"hours":17,"minutes":15,"utc":true},{"year":2017,"month":2,"date":15,"utc":true}]}},
        "y": {"field": "pm", "type": "quantitative", "scale": {"domain": [-1.25, 75.9], "nice": false, "zero": false},
              "axis": {"title": "PM2.5 24h av (ug/m3)", "values": [0, 20, 40, 60]}}
      },
      "layer": [
        {
          "data": {"name": "pm"},
          "transform": [{"filter": {"field": "station", "oneOf": ["HW","RP","BV","ED","MG"]}}],
          "mark": {"type": "line", "strokeWidth": 2.5},
          "encoding": {
            "x": {"field": "date", "type": "temporal",
                  "scale": {"type": "utc", "nice": false, "domain": [{"year":2017,"month":1,"date":14,"hours":17,"minutes":15,"utc":true},{"year":2017,"month":2,"date":15,"utc":true}]},
                  "axis": {"orient": "bottom", "title": "Date", "format": "%-m/%-d/%Y", "tickSize": 14, "labelFlush": false, "labelOverlap": false,
                           "values": [{"year":2017,"month":1,"date":16,"utc":true},{"year":2017,"month":1,"date":21,"utc":true},{"year":2017,"month":1,"date":26,"utc":true},{"year":2017,"month":1,"date":31,"utc":true},{"year":2017,"month":2,"date":5,"utc":true},{"year":2017,"month":2,"date":10,"utc":true},{"year":2017,"month":2,"date":15,"utc":true}]}},
            "color": {"field": "station", "type": "nominal",
                      "scale": {"domain": ["HW","RP","BV","ED","MG"], "range": ["#17928D","#FF0000","#FFA500","#66C81A","#8E44EE"]},
                      "legend": {"legendX": 626, "legendY": 27}}
          }
        },
        {"data": {"name": "pm"}, "transform": [{"filter": {"field": "station", "oneOf": ["ED","HW"]}}], "mark": {"type": "point", "shape": "triangle-up", "filled": true, "opacity": 1, "size": 150}, "encoding": {"color": {"field": "station", "type": "nominal"}}},
        {"data": {"name": "pm"}, "transform": [{"filter": {"field": "station", "oneOf": ["MG"]}}], "mark": {"type": "point", "shape": "triangle-down", "filled": true, "opacity": 1, "size": 150}, "encoding": {"color": {"field": "station", "type": "nominal"}}},
        {"data": {"name": "pm"}, "transform": [{"filter": {"field": "station", "oneOf": ["BV","RP"]}}], "mark": {"type": "point", "shape": "circle", "filled": true, "opacity": 1, "size": 150}, "encoding": {"color": {"field": "station", "type": "nominal"}}},
        {
          "data": {"name": "pm"},
          "transform": [{"filter": "false"}],
          "mark": {"type": "point", "filled": true, "opacity": 1},
          "encoding": {
            "color": {"field": "station", "type": "nominal"},
            "shape": {"field": "station", "type": "nominal",
                      "scale": {"domain": ["HW","RP","BV","ED","MG"],
                                "range": ["M-1.9,0H1.9M0,-0.68L0.68,0.5H-0.68Z", "M-1.9,0H1.9M0.62,0A0.62,0.62 0 1,1 -0.62,0A0.62,0.62 0 1,1 0.62,0Z", "M-1.9,0H1.9M0.62,0A0.62,0.62 0 1,1 -0.62,0A0.62,0.62 0 1,1 0.62,0Z", "M-1.9,0H1.9M0,-0.68L0.68,0.5H-0.68Z", "M-1.9,0H1.9M0,0.68L0.68,-0.5H-0.68Z"]}}
          }
        },
        {
          "data": {"values": [
            {"date": "2017-01-28T06:00:00Z", "pm": 75.9, "pm2": 9.7},
            {"date": "2017-01-31T07:26:00Z", "pm": 75.9, "pm2": 9.7},
            {"date": "2017-02-01T06:14:00Z", "pm": 75.9, "pm2": 9.7},
            {"date": "2017-02-02T07:55:00Z", "pm": 75.9, "pm2": 9.7}
          ]},
          "mark": {"type": "rule", "color": "#FF0000", "strokeWidth": 5.5, "strokeDash": [23, 19.5]},
          "encoding": {
            "x": {"field": "date", "type": "temporal",
                  "scale": {"type": "utc", "nice": false, "domain": [{"year":2017,"month":1,"date":14,"hours":17,"minutes":15,"utc":true},{"year":2017,"month":2,"date":15,"utc":true}]},
                  "axis": {"orient": "bottom", "title": null, "labels": false, "domain": false, "tickSize": 8, "tickCount": {"interval": "day", "step": 1}}},
            "y2": {"field": "pm2"}
          }
        },
        {
          "data": {"values": [
            {"date": "2017-02-04T17:02:00Z", "pm": 38.96, "label": "Lower Salt"},
            {"date": "2017-02-04T17:02:00Z", "pm": 29.11, "label": "Lake area"}
          ]},
          "mark": {"type": "text", "font": "Lato", "fontSize": 44, "color": "#000000", "align": "left", "baseline": "alphabetic"},
          "encoding": {"text": {"field": "label"}}
        },
        {
          "data": {"values": [{"date": "2017-01-17T01:00:00Z", "pm": 70.6, "label": "2"}]},
          "mark": {"type": "text", "font": "Lato", "fontSize": 34, "color": "#000000", "align": "center", "baseline": "middle"},
          "encoding": {"text": {"field": "label"}}
        }
      ],
      "resolve": {"axis": {"x": "independent"}}
    },
    {
      "width": 827, "height": 452,
      "encoding": {
        "x": {"field": "date", "type": "temporal", "axis": null,
              "scale": {"type": "utc", "nice": false, "domain": [{"year":2017,"month":1,"date":14,"hours":17,"minutes":15,"utc":true},{"year":2017,"month":2,"date":15,"utc":true}]}},
        "y": {"field": "pm", "type": "quantitative", "scale": {"domain": [-1.25, 75.9], "nice": false, "zero": false},
              "axis": {"title": "PM2.5 24h av (ug/m3)", "values": [0, 20, 40, 60]}}
      },
      "layer": [
        {
          "data": {"name": "pm"},
          "transform": [{"filter": {"field": "station", "oneOf": ["LX","SF","NP"]}}],
          "mark": {"type": "line", "strokeWidth": 2.5},
          "encoding": {
            "x": {"field": "date", "type": "temporal",
                  "scale": {"type": "utc", "nice": false, "domain": [{"year":2017,"month":1,"date":14,"hours":17,"minutes":15,"utc":true},{"year":2017,"month":2,"date":15,"utc":true}]},
                  "axis": {"orient": "bottom", "title": "Date", "format": "%-m/%-d/%Y", "tickSize": 14, "labelFlush": false, "labelOverlap": false,
                           "values": [{"year":2017,"month":1,"date":16,"utc":true},{"year":2017,"month":1,"date":21,"utc":true},{"year":2017,"month":1,"date":26,"utc":true},{"year":2017,"month":1,"date":31,"utc":true},{"year":2017,"month":2,"date":5,"utc":true},{"year":2017,"month":2,"date":10,"utc":true},{"year":2017,"month":2,"date":15,"utc":true}]}},
            "color": {"field": "station", "type": "nominal",
                      "scale": {"domain": ["LX","SF","NP"], "range": ["#0AA8F5","#C8105A","#C818A0"]},
                      "legend": {"legendX": 638, "legendY": 39, "padding": 3}}
          }
        },
        {"data": {"name": "pm"}, "transform": [{"filter": {"field": "station", "oneOf": ["NP"]}}], "mark": {"type": "point", "shape": "square", "filled": true, "opacity": 1, "size": 150}, "encoding": {"color": {"field": "station", "type": "nominal"}}},
        {"data": {"name": "pm"}, "transform": [{"filter": {"field": "station", "oneOf": ["LX","SF"]}}], "mark": {"type": "point", "shape": "diamond", "filled": true, "opacity": 1, "size": 160}, "encoding": {"color": {"field": "station", "type": "nominal"}}},
        {
          "data": {"name": "pm"},
          "transform": [{"filter": "false"}],
          "mark": {"type": "point", "filled": true, "opacity": 1},
          "encoding": {
            "color": {"field": "station", "type": "nominal"},
            "shape": {"field": "station", "type": "nominal",
                      "scale": {"domain": ["LX","SF","NP"],
                                "range": ["M-1.9,0H1.9M0,-0.75L0.62,0L0,0.75L-0.62,0Z", "M-1.9,0H1.9M0,-0.75L0.62,0L0,0.75L-0.62,0Z", "M-1.9,0H1.9M-0.55,-0.55H0.55V0.55H-0.55Z"]}}
          }
        },
        {
          "data": {"values": [
            {"date": "2017-01-28T07:00:00Z", "pm": 75.9, "pm2": 9.5},
            {"date": "2017-01-31T06:00:00Z", "pm": 75.9, "pm2": 9.5},
            {"date": "2017-02-01T05:02:00Z", "pm": 75.9, "pm2": 9.5},
            {"date": "2017-02-02T06:29:00Z", "pm": 75.9, "pm2": 9.5}
          ]},
          "mark": {"type": "rule", "color": "#FF0000", "strokeWidth": 5.5, "strokeDash": [23, 19.5]},
          "encoding": {
            "x": {"field": "date", "type": "temporal",
                  "scale": {"type": "utc", "nice": false, "domain": [{"year":2017,"month":1,"date":14,"hours":17,"minutes":15,"utc":true},{"year":2017,"month":2,"date":15,"utc":true}]},
                  "axis": {"orient": "bottom", "title": null, "labels": false, "domain": false, "tickSize": 8, "tickCount": {"interval": "day", "step": 1}}},
            "y2": {"field": "pm2"}
          }
        },
        {
          "data": {"values": [
            {"date": "2017-02-04T11:31:00Z", "pm": 38.96, "label": "Utah Lake"},
            {"date": "2017-02-04T11:31:00Z", "pm": 29.11, "label": "(Provo)"}
          ]},
          "mark": {"type": "text", "font": "Lato", "fontSize": 44, "color": "#000000", "align": "left", "baseline": "alphabetic"},
          "encoding": {"text": {"field": "label"}}
        },
        {
          "data": {"values": [{"date": "2017-01-17T01:41:00Z", "pm": 70.6, "label": "3"}]},
          "mark": {"type": "text", "font": "Lato", "fontSize": 34, "color": "#000000", "align": "center", "baseline": "middle"},
          "encoding": {"text": {"field": "label"}}
        }
      ],
      "resolve": {"axis": {"x": "independent"}}
    }
  ]
}
